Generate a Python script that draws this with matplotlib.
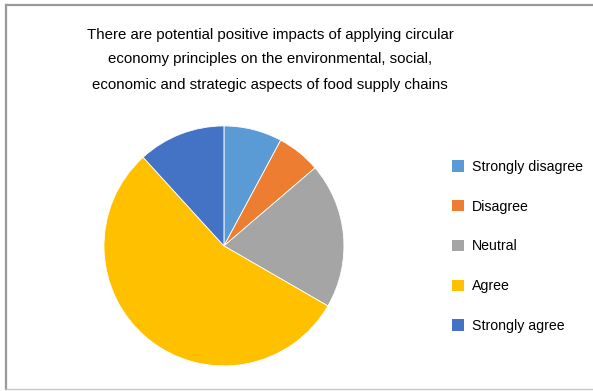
import matplotlib
matplotlib.use("Agg")
import matplotlib.pyplot as plt
from matplotlib.lines import Line2D
from matplotlib.patches import Patch

categories = ["Strongly disagree", "Disagree", "Neutral", "Agree", "Strongly agree"]
counts = [4, 3, 10, 28, 6]
colors = ["#5B9BD5", "#ED7D31", "#A5A5A5", "#FFC000", "#4472C4"]
title = ("There are potential positive impacts of applying circular\n"
         "economy principles on the environmental, social,\n"
         "economic and strategic aspects of food supply chains")

plt.rcParams['font.family'] = ['Liberation Sans', 'DejaVu Sans']

fig = plt.figure(figsize=(5.93, 3.91), dpi=100)
fig.patch.set_facecolor("white")

# frame lines
fig.add_artist(Line2D([5.5/593, 5.5/593], [1-4.5/391, 1-389/391], color="#9a9a9a", lw=1.6))
fig.add_artist(Line2D([5.5/593, 1.0], [1-4.5/391, 1-4.5/391], color="#9a9a9a", lw=1.6))
fig.add_artist(Line2D([5.5/593, 1.0], [1-389/391, 1-389/391], color="#c8c8c8", lw=1.0))

fig.text(270/593, 1-59.5/391, title, ha="center", va="center", fontsize=10.8,
         linespacing=2.0, color="black")

ax = fig.add_axes([0.1753, 0.0641, 0.4047, 0.6138])
ax.pie(counts, colors=colors, startangle=90, counterclock=False,
       wedgeprops=dict(edgecolor="white", linewidth=0.6))
ax.set_xlim(-1, 1)
ax.set_ylim(-1, 1)
ax.set_aspect("equal")
ax.axis("off")

handles = [Patch(facecolor=c, edgecolor="none") for c in colors]
fig.legend(handles, categories, loc="center left", bbox_to_anchor=(0.762, 0.370),
           frameon=False, fontsize=10.2, labelspacing=1.82, handlelength=0.85,
           handleheight=0.85, handletextpad=0.55, borderpad=0, borderaxespad=0)

fig.savefig("out.png", dpi=100)
